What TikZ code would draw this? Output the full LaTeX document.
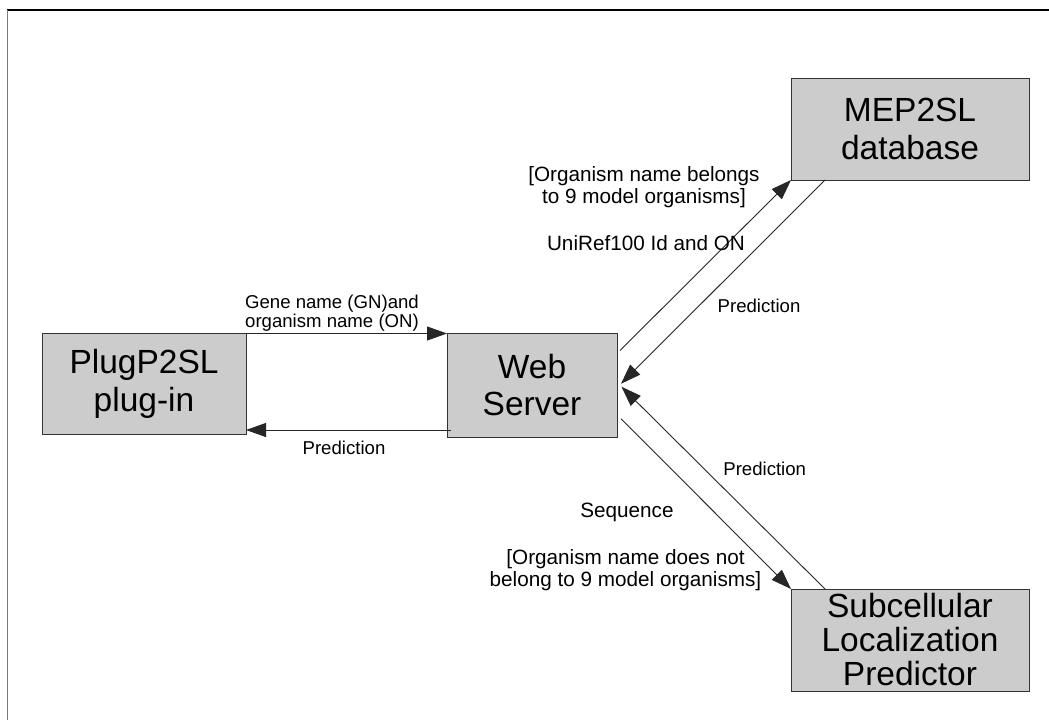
\documentclass[tikz,border=0pt]{standalone}
\usepackage{fontspec}
\setmainfont{Liberation Sans}
\usetikzlibrary{arrows.meta,calc}
\definecolor{boxfill}{HTML}{CCCCCC}
\definecolor{frameleft}{HTML}{7A7A7A}

\begin{document}
\begin{tikzpicture}[x=1pt,y=-1pt,
  box/.style={draw=black!80, fill=boxfill, line width=1pt, inner sep=0pt,
    outer sep=0pt, align=center, font=\fontsize{33.5}{37.5}\selectfont},
  msg/.style={-{Triangle[length=20pt,width=14pt]}, line width=0.9pt, draw=black!85},
  lbl/.style={inner sep=0pt, outer sep=0pt, align=center,
    font=\fontsize{20.7}{22}\selectfont},
  slbl/.style={inner sep=0pt, outer sep=0pt, align=center,
    font=\fontsize{18.6}{19.4}\selectfont}]

% page area
\useasboundingbox (0,0) rectangle (1049,720);
\fill[white] (0,0) rectangle (1049,720);

% frame edges
\draw[black, line width=1.3pt] (7,10) -- (1049,10);
\draw[frameleft, line width=1.5pt] (7.5,10) -- (7.5,720);

% components
\node[box, minimum width=204pt, minimum height=101pt] (plug) at (144,384)
  {PlugP2SL\\plug-in};
\node[box, minimum width=170pt, minimum height=103.5pt] (web) at (532,385.25)
  {Web\\Server};
\node[box, minimum width=238pt, minimum height=102pt] (mep) at (910,129)
  {MEP2SL\\database};
\node[box, minimum width=238pt, minimum height=102pt,
  font=\fontsize{33.5}{34}\selectfont] (sub) at (910,640)
  {Subcellular\\Localization\\Predictor};

% plug-in <-> web server
\draw[msg] (plug.north east) -- (web.north west);
\coordinate (ret) at ($(web.south west)+(4,-7)$);
\draw[msg] (ret) -- (ret -| plug.east);

% web server <-> database
\draw[msg] ($(web.north east)+(3,17)$) -- (mep.south west);
\draw[msg] ($(mep.south west)+(34,0)$) -- ($(web.east)+(4,-1.5)$);

% web server <-> predictor
\draw[msg] ($(sub.north west)+(34,0)$) -- ($(web.east)+(4.5,1.5)$);
\draw[msg] ($(web.east)+(4,33.5)$) -- (sub.north west);

% message labels
\node[slbl] (lq) at (332,313.2) {Gene name (GN)and\\organism name (ON)};
\node[slbl, anchor=base] (lp1) at (344,454) {Prediction};
\node[lbl] (lc1) at (644,187.6) {[Organism name belongs\\to 9 model organisms]};
\node[lbl, anchor=base] (lu) at (646,250.7) {UniRef100 Id and ON};
\node[slbl, anchor=base] (lp2) at (759,312.7) {Prediction};
\node[slbl, anchor=base] (lp3) at (764.7,475) {Prediction};
\node[lbl, anchor=base] (ls) at (627,517) {Sequence};
\node[lbl, font=\fontsize{20.7}{22.7}\selectfont] (lc2) at (625.5,570)
  {[Organism name does not\\belong to 9 model organisms]};
\end{tikzpicture}
\end{document}
